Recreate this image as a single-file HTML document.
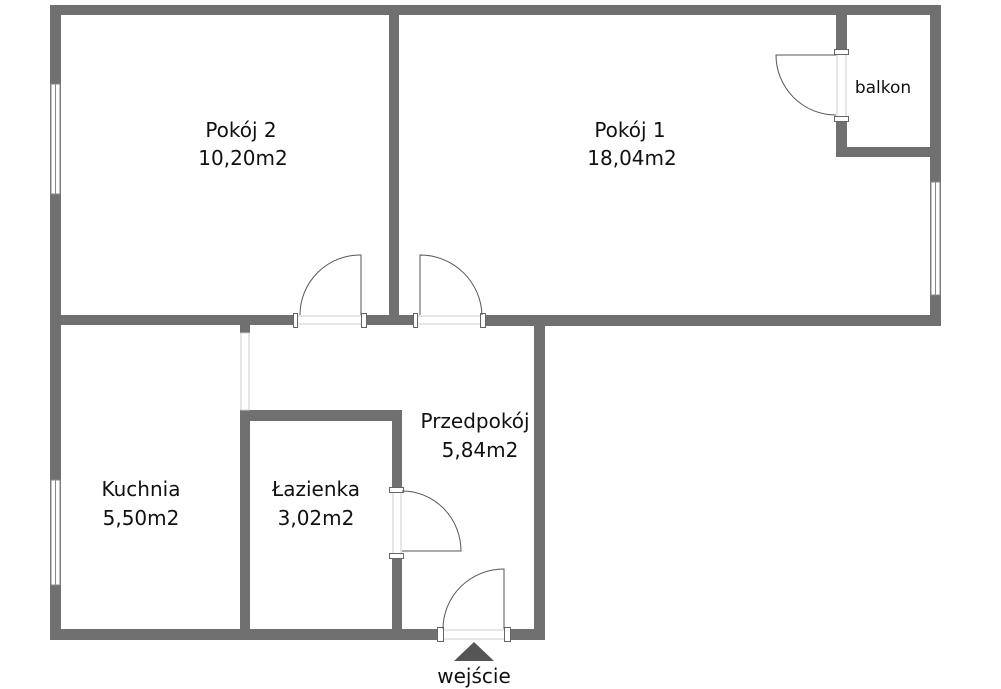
<!DOCTYPE html>
<html><head><meta charset="utf-8"><style>
html,body{margin:0;padding:0;background:#fff;width:1001px;height:689px;overflow:hidden}
svg{display:block}
text{font-family:"DejaVu Sans","Liberation Sans",sans-serif;fill:#111}
</style></head><body>
<svg width="1001" height="689" viewBox="0 0 1001 689" xmlns="http://www.w3.org/2000/svg">
<g fill="#707070">
<rect x="50" y="5" width="891" height="10"/>
<rect x="50" y="5" width="11" height="635"/>
<rect x="930" y="5" width="11" height="321"/>
<rect x="389" y="15" width="10" height="310"/>
<rect x="61" y="315" width="236" height="10"/>
<rect x="363" y="315" width="54" height="10"/>
<rect x="482" y="315" width="459" height="11"/>
<rect x="836" y="15" width="11" height="37"/>
<rect x="836" y="120" width="11" height="37"/>
<rect x="836" y="147" width="100" height="10"/>
<rect x="534" y="315" width="11" height="325"/>
<rect x="50" y="629" width="388" height="11"/>
<rect x="510" y="629" width="35" height="11"/>
<rect x="240" y="325" width="10" height="8"/>
<rect x="240" y="410" width="162" height="11"/>
<rect x="240" y="410" width="10" height="220"/>
<rect x="392" y="410" width="10" height="78"/>
<rect x="392" y="555" width="10" height="75"/>
</g>
<g fill="#fff" stroke="#888" stroke-width="1">
<rect x="51" y="84" width="9" height="110"/>
<rect x="51" y="480" width="9" height="105"/>
<rect x="931" y="182" width="9" height="113"/>
<rect x="241" y="333" width="8" height="77" stroke="#ccc"/>
</g>
<g stroke="#888" stroke-width="1">
<line x1="55.5" y1="84" x2="55.5" y2="194"/>
<line x1="55.5" y1="480" x2="55.5" y2="585"/>
<line x1="935.5" y1="182" x2="935.5" y2="295"/>
</g>
<g stroke="#ccc" stroke-width="1">
<line x1="297" y1="316" x2="363" y2="316"/><line x1="297" y1="324" x2="363" y2="324"/>
<line x1="417" y1="316" x2="482" y2="316"/><line x1="417" y1="324" x2="482" y2="324"/>
<line x1="837" y1="52" x2="837" y2="120"/><line x1="846" y1="52" x2="846" y2="120"/>
<line x1="393" y1="488" x2="393" y2="555"/><line x1="401" y1="488" x2="401" y2="555"/>
<line x1="443" y1="630" x2="504" y2="630"/><line x1="443" y1="639" x2="504" y2="639"/>
</g>
<g fill="#fff" stroke="#666" stroke-width="1">
<rect x="293.5" y="313.5" width="4" height="14"/>
<rect x="361.5" y="313.5" width="5" height="14"/>
<rect x="413.5" y="313.5" width="4" height="14"/>
<rect x="480.5" y="313.5" width="5" height="14"/>
<rect x="834.5" y="49.5" width="14" height="5"/>
<rect x="834.5" y="116.5" width="14" height="5"/>
<rect x="389.5" y="487.5" width="14" height="5"/>
<rect x="389.5" y="553.5" width="14" height="5"/>
<rect x="437.5" y="627.5" width="6" height="14"/>
<rect x="504.5" y="627.5" width="6" height="14"/>
</g>
<g fill="none" stroke="#555" stroke-width="1">
<path d="M361 315 V255 A60 60 0 0 0 300 315"/>
<path d="M420 315 V255 A62 62 0 0 1 482 315"/>
<path d="M836 55 H776 A60 60 0 0 0 836 115"/>
<path d="M402 551 H461 A59 60 0 0 0 402 491"/>
<path d="M504 629 V569 A61 60 0 0 0 443 629"/>
</g>
<polygon points="474,642 494,661 454,661" fill="#555"/>
<g font-size="20" text-anchor="middle">
<text x="241" y="137">Pokój 2</text><text x="243" y="165">10,20m2</text>
<text x="630" y="137">Pokój 1</text><text x="632" y="165">18,04m2</text>
<text x="475" y="428">Przedpokój</text><text x="480" y="457">5,84m2</text>
<text x="141" y="496">Kuchnia</text><text x="141" y="525">5,50m2</text>
<text x="316" y="496">Łazienka</text><text x="316" y="525">3,02m2</text>
<text x="474" y="683">wejście</text>
<text x="883" y="93" font-size="17">balkon</text>
</g>
</svg>
</body></html>
